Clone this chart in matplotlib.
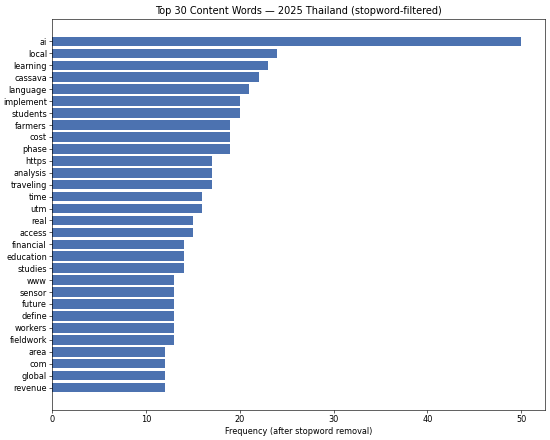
import matplotlib
matplotlib.use("Agg")
import matplotlib.pyplot as plt

words = ["ai", "local", "learning", "cassava", "language", "implement", "students",
         "farmers", "cost", "phase", "https", "analysis", "traveling", "time", "utm",
         "real", "access", "financial", "education", "studies", "www", "sensor",
         "future", "define", "workers", "fieldwork", "area", "com", "global", "revenue"]
counts = [50, 24, 23, 22, 21, 20, 20, 19, 19, 19, 17, 17, 17, 16, 16,
          15, 15, 14, 14, 14, 13, 13, 13, 13, 13, 13, 12, 12, 12, 12]

plt.rcParams["font.size"] = 10.6

fig, ax = plt.subplots(figsize=(10, 8), dpi=55)
ax.barh(words, counts, color="#4C72B0")
ax.invert_yaxis()
ax.set_xlabel("Frequency (after stopword removal)")
ax.set_title("Top 30 Content Words — 2025 Thailand (stopword-filtered)")
fig.subplots_adjust(left=0.095, right=0.99, top=0.957, bottom=0.068)
plt.savefig("out.png")
